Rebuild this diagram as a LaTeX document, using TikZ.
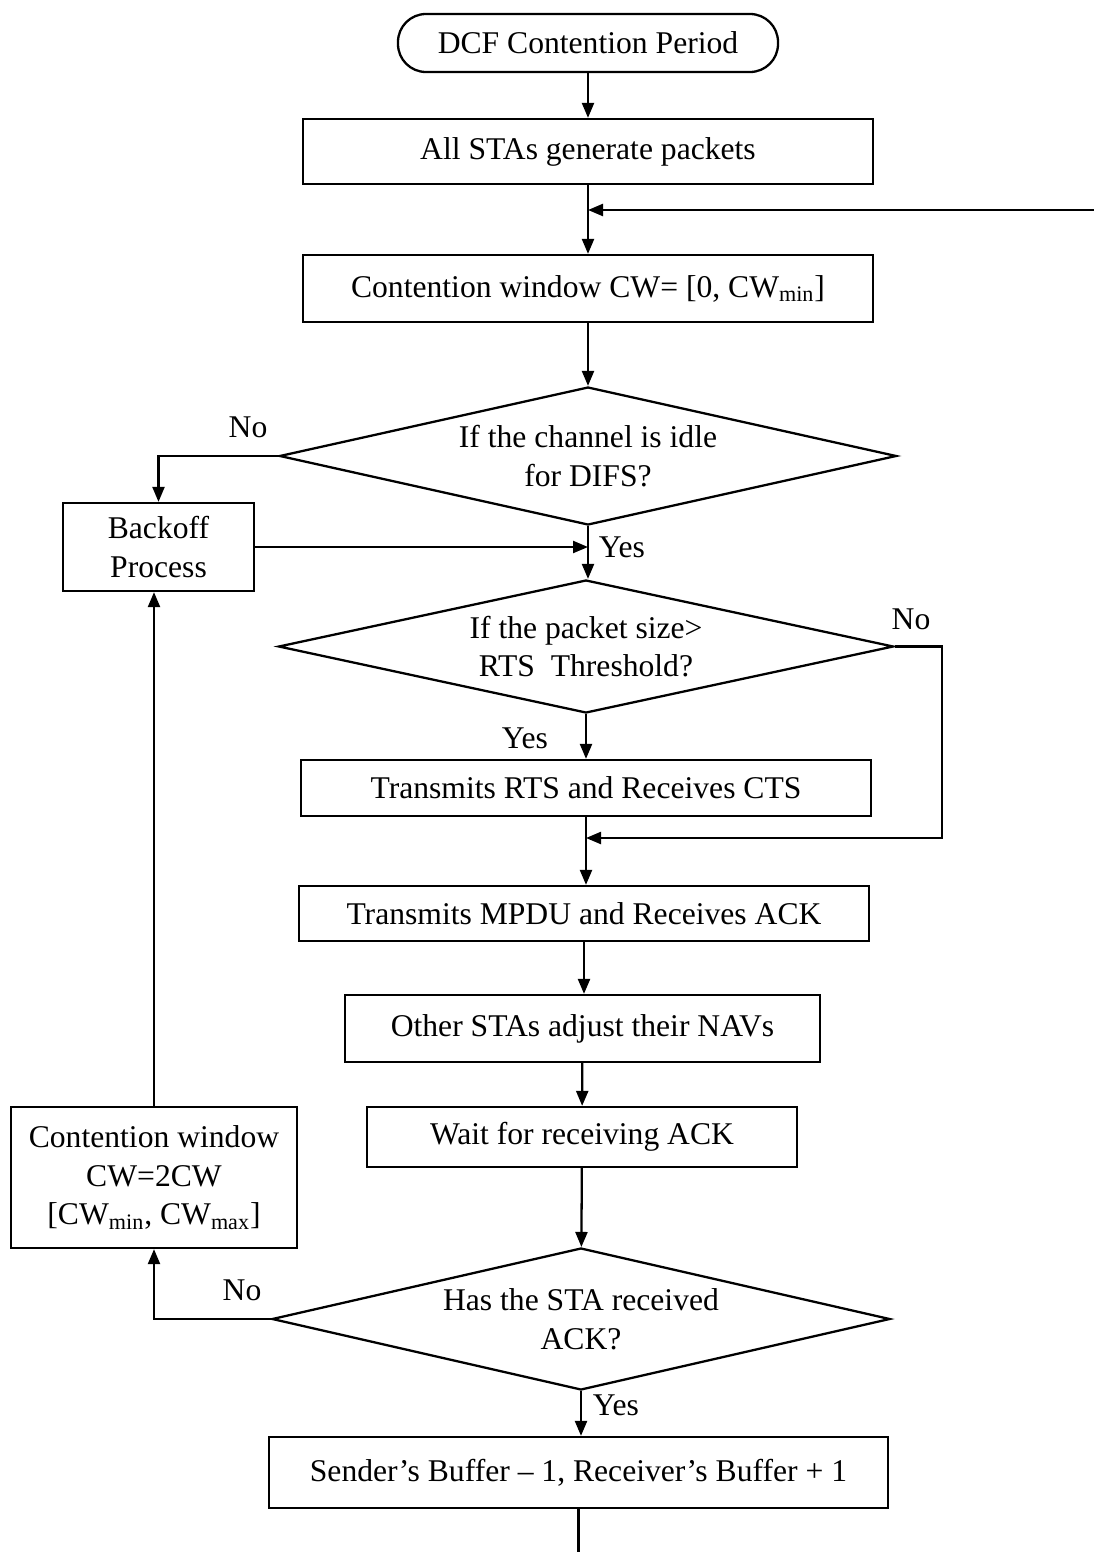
\documentclass[tikz,border=0pt]{standalone}
\usepackage{fontspec}
\setmainfont{Liberation Serif}
\usetikzlibrary{arrows.meta,shapes.geometric}

\begin{document}
\begin{tikzpicture}[x=0.02cm,y=-0.02cm,
  line width=1.3pt,
  every node/.style={font=\fontsize{18}{22}\selectfont},
  sz/.style 2 args={minimum width=#1*0.02cm, minimum height=#2*0.02cm},
  box/.style={draw, rectangle, inner sep=0pt, align=center},
  term/.style={draw, rectangle, rounded corners=0.56cm, inner sep=0pt, align=center},
  dec/.style={draw, diamond, inner sep=0pt, align=center},
  arr/.style={-{Triangle[length=0.3cm,width=0.24cm]}},
  lbl/.style={inner sep=0pt}]
\useasboundingbox (0,0) rectangle (1094,1552);

% process steps
\node[term, sz={380}{58}] (start) at (588,43) {DCF Contention Period};
\node[box, sz={570}{65}] (gen) at (588,151.5) {All STAs generate packets};
\node[box, sz={570}{67}] (cwinit) at (588,288.5) {Contention window CW= [0, CW\textsubscript{min}]};
\node[dec, sz={617}{138}, aspect=4.471] (idle) at (588,456) {If the channel is idle\\for DIFS?};
\node[box, sz={191}{88}] (backoff) at (158.5,547) {Backoff\\Process};
\node[dec, sz={615}{133}, aspect=4.624] (size) at (586,646.5) {If the packet size>\\RTS\ \ Threshold?};
\node[box, sz={570}{56}] (rts) at (586,788) {Transmits RTS and Receives CTS};
\node[box, sz={570}{55}] (mpdu) at (584,913.5) {Transmits MPDU and Receives ACK};
\node[box, sz={475}{67}] (nav) at (582.5,1028.5) {Other STAs adjust their NAVs};
\node[box, sz={430}{60}] (wait) at (582,1137) {Wait for receiving ACK};
\node[dec, sz={618}{142}, aspect=4.352] (ack) at (581,1319) {Has the STA received\\ACK?};
\node[box, sz={286}{141}] (cwdbl) at (154,1177.5) {Contention window\\CW=2CW\\{}[CW\textsubscript{min}, CW\textsubscript{max}]};
\node[box, sz={619}{71}] (buf) at (578.5,1472.5) {Sender’s Buffer -- 1, Receiver’s Buffer + 1};

% free ends of the loop-back and exit lines
\coordinate (retin) at (1094,210);
\coordinate (exit) at (578.5,1552);
\coordinate (merge) at (586,838);

% branch labels
\node[lbl] at (248,427) {No};
\node[lbl] at (622,547) {Yes};
\node[lbl] at (911,619) {No};
\node[lbl] at (525,738) {Yes};
\node[lbl] at (242,1290) {No};
\node[lbl] at (616,1405) {Yes};

% connectors
\draw[arr] (start) -- (gen);
\draw[arr] (gen) -- (cwinit);
\draw[arr] (retin) -- (gen.south |- retin);
\draw[arr] (cwinit) -- (idle);
\draw[arr] (idle.west) -| (backoff.north);
\draw[arr] (idle.south) -- (size.north -| idle.south);
\draw[arr] (backoff.east) -- (backoff.east -| idle.south);
\draw[arr] (size.south) -- (rts.north);
\draw[arr] (size.east) -- ++(47,0) |- (merge);
\draw[arr] (rts) -- (mpdu.north -| rts.south);
\draw[arr] (mpdu.south) -- (mpdu.south |- nav.north);
\draw[arr] (nav) -- (wait);
\draw[arr] (wait) -- (ack);
\draw[arr] (ack.west) -| (cwdbl.south);
\draw[arr] (cwdbl.north) -- (cwdbl.north |- backoff.south);
\draw[arr] (ack.south) -- (ack.south |- buf.north);
\draw (buf) -- (exit);
\end{tikzpicture}
\end{document}
